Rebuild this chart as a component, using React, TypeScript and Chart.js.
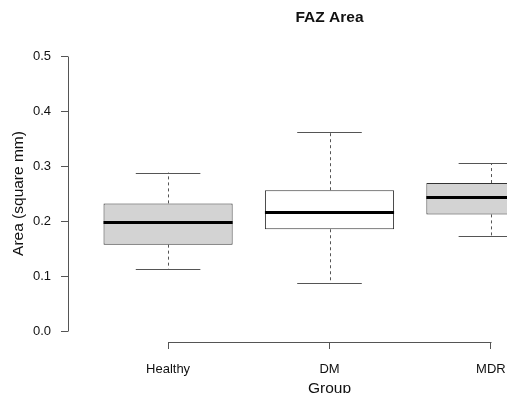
import React, { useEffect, useRef } from "react";
import { Chart, registerables } from "chart.js";

Chart.register(...registerables);

const categories = ["Healthy", "DM", "MDR"];
const whiskerLow = [0.113, 0.087, 0.173];
const q1 = [0.157, 0.185, 0.212];
const median = [0.198, 0.216, 0.243];
const q3 = [0.232, 0.256, 0.269];
const whiskerHigh = [0.288, 0.361, 0.305];
const boxColors = ["#d3d3d3", "#ffffff", "#d3d3d3"];
const yTicks = [0, 0.1, 0.2, 0.3, 0.4, 0.5];
const yTickLabels = ["0.0", "0.1", "0.2", "0.3", "0.4", "0.5"];
const xTicks = [1, 2, 3];

const FONT = "'Liberation Sans', Arial, Helvetica, sans-serif";
const AXIS_COLOR = "#555";
const TEXT_COLOR = "#111";

const boxWhiskerPlugin = {
  id: "boxWhisker",
  afterDatasetsDraw(chart: any) {
    const { ctx, scales } = chart;
    const xs = scales.x;
    const ys = scales.y;
    const al = (v: number) => Math.round(v) + 0.5;
    ctx.save();
    // R-style axis lines (from first to last tick)
    ctx.strokeStyle = AXIS_COLOR;
    ctx.lineWidth = 1;
    ctx.setLineDash([]);
    ctx.beginPath();
    const yx = al(ys.right);
    ctx.moveTo(yx, al(ys.getPixelForValue(yTicks[0])));
    ctx.lineTo(yx, al(ys.getPixelForValue(yTicks[yTicks.length - 1])));
    const xy = al(xs.top);
    ctx.moveTo(al(xs.getPixelForValue(xTicks[0])), xy);
    ctx.lineTo(al(xs.getPixelForValue(xTicks[xTicks.length - 1])), xy);
    ctx.stroke();

    categories.forEach((_, i) => {
      const c = i + 1;
      const xc = al(xs.getPixelForValue(c));
      const capL = xs.getPixelForValue(c - 0.2);
      const capR = xs.getPixelForValue(c + 0.2);
      const boxL = xs.getPixelForValue(c - 0.4);
      const boxR = xs.getPixelForValue(c + 0.4);
      // dashed whiskers
      ctx.strokeStyle = AXIS_COLOR;
      ctx.lineWidth = 1;
      ctx.setLineDash([3, 3]);
      ctx.beginPath();
      ctx.moveTo(xc, ys.getPixelForValue(q3[i]));
      ctx.lineTo(xc, ys.getPixelForValue(whiskerHigh[i]));
      ctx.moveTo(xc, ys.getPixelForValue(q1[i]));
      ctx.lineTo(xc, ys.getPixelForValue(whiskerLow[i]));
      ctx.stroke();
      // caps
      ctx.setLineDash([]);
      ctx.beginPath();
      const yh = al(ys.getPixelForValue(whiskerHigh[i]));
      const yl = al(ys.getPixelForValue(whiskerLow[i]));
      ctx.moveTo(capL, yh);
      ctx.lineTo(capR, yh);
      ctx.moveTo(capL, yl);
      ctx.lineTo(capR, yl);
      ctx.stroke();
      // median
      ctx.strokeStyle = "#000";
      ctx.lineWidth = 3;
      ctx.beginPath();
      const ym = Math.round(ys.getPixelForValue(median[i])) + 0.5;
      ctx.moveTo(boxL, ym);
      ctx.lineTo(boxR, ym);
      ctx.stroke();
    });
    ctx.restore();
  },
};

export default function App() {
  const ref = useRef<HTMLCanvasElement>(null);
  useEffect(() => {
    if (!ref.current) return;
    const chart = new Chart(ref.current, {
      type: "bar",
      data: {
        datasets: [
          {
            data: categories.map((_, i) => ({ x: i + 1, y: [q1[i], q3[i]] })) as any,
            backgroundColor: boxColors,
            borderColor: "#333",
            borderWidth: 1,
            borderSkipped: false,
            categoryPercentage: 0.8,
            barPercentage: 1,
          },
        ],
      },
      options: {
        responsive: false,
        animation: false,
        devicePixelRatio: 1,
        layout: { padding: { left: 0, top: 0, right: 29, bottom: 0 } },
        font: { family: FONT },
        plugins: {
          legend: { display: false },
          tooltip: { enabled: false },
          title: {
            display: true,
            text: "FAZ Area",
            fullSize: false,
            color: TEXT_COLOR,
            font: { family: FONT, size: 15.5, weight: "bold" },
            padding: { top: 8.7, bottom: 17.7 },
          },
        },
        scales: {
          x: {
            type: "linear",
            offset: false,
            min: 0.38,
            max: 3.62,
            afterBuildTicks: (axis: any) => {
              axis.ticks = xTicks.map((v) => ({ value: v }));
            },
            afterFit: (axis: any) => {
              axis.height = 58;
            },
            grid: {
              display: true,
              offset: false,
              drawOnChartArea: false,
              drawTicks: true,
              tickLength: 7,
              color: AXIS_COLOR,
              lineWidth: 1,
            },
            border: { display: false },
            ticks: {
              autoSkip: false,
              maxRotation: 0,
              padding: 12.5,
              color: TEXT_COLOR,
              font: { family: FONT, size: 13 },
              callback: (_v: any, i: number) => categories[i],
            },
            title: {
              display: true,
              text: "Group",
              color: TEXT_COLOR,
              font: { family: FONT, size: 15.5 },
              padding: { top: 0, bottom: 2.2 },
            },
          },
          y: {
            type: "linear",
            min: -0.02,
            max: 0.52,
            afterBuildTicks: (axis: any) => {
              axis.ticks = yTicks.map((v) => ({ value: v }));
            },
            afterFit: (axis: any) => {
              axis.width = 68;
            },
            grid: {
              display: true,
              drawOnChartArea: false,
              drawTicks: true,
              tickLength: 7,
              color: AXIS_COLOR,
              lineWidth: 1,
            },
            border: { display: false },
            ticks: {
              autoSkip: false,
              padding: 10,
              color: TEXT_COLOR,
              font: { family: FONT, size: 13 },
              callback: (_v: any, i: number) => yTickLabels[i],
            },
            title: {
              display: true,
              text: "Area (square mm)",
              color: TEXT_COLOR,
              font: { family: FONT, size: 15.5 },
              padding: { top: 9.7, bottom: 0 },
            },
          },
        },
      } as any,
      plugins: [boxWhiskerPlugin],
    });
    return () => chart.destroy();
  }, []);

  return (
    <div
      style={{
        position: "absolute",
        left: 0,
        top: 0,
        width: 507,
        height: 393,
        overflow: "hidden",
        background: "#fff",
      }}
    >
      <canvas
        ref={ref}
        width={620}
        height={400}
        style={{ display: "block", width: 620, height: 400 }}
      />
    </div>
  );
}
